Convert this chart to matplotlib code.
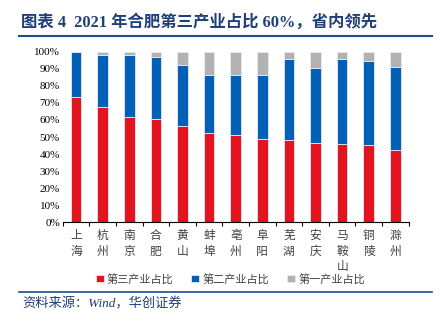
import numpy as np
import matplotlib.pyplot as plt
from matplotlib.ticker import PercentFormatter

cities = ["上海", "杭州", "南京", "合肥", "黄山", "蚌埠", "亳州",
          "阜阳", "芜湖", "安庆", "马鞍山", "铜陵", "滁州"]
tertiary = [73.3, 67.8, 61.9, 60.4, 56.6, 52.3, 51.3, 48.8, 48.4, 46.5, 46.1, 45.3, 42.6]
secondary = [26.4, 30.3, 36.2, 36.3, 35.4, 34.0, 35.0, 37.5, 47.3, 43.9, 49.6, 49.2, 48.6]
primary = [100 - a - b for a, b in zip(tertiary, secondary)]
series_names = ["第三产业占比", "第二产业占比", "第一产业占比"]

cjk = ["Liberation Serif", "Noto Sans CJK SC", "DejaVu Sans"]
plt.rcParams["font.family"] = cjk

fig = plt.figure(figsize=(4.43, 3.21), dpi=100)
ax = fig.add_axes([62.7 / 443, 1 - 222.3 / 321, 346 / 443, 170.6 / 321])

x = np.arange(len(cities))
w = 0.4
ec = "#e8e8f0"
ax.bar(x, tertiary, w, color="#E3141E", edgecolor=ec, linewidth=0.6, label=series_names[0])
ax.bar(x, secondary, w, bottom=tertiary, color="#0060B8", edgecolor=ec, linewidth=0.6,
       label=series_names[1])
ax.bar(x, primary, w, bottom=np.array(tertiary) + np.array(secondary), color="#B2B2B2",
       edgecolor=ec, linewidth=0.6, label=series_names[2])

ax.set_xlim(-0.5, len(cities) - 0.5)
ax.set_ylim(0, 100)
ax.set_yticks(np.arange(0, 101, 10))
ax.yaxis.set_major_formatter(PercentFormatter(decimals=0))
ax.tick_params(axis="y", length=0, labelsize=8, pad=2)
for s in ["left", "right", "top"]:
    ax.spines[s].set_visible(False)
ax.spines["bottom"].set_linewidth(0.8)

ax.set_xticks(np.arange(-0.5, len(cities), 1))
ax.set_xticklabels([])
ax.tick_params(axis="x", length=3, direction="out", width=0.8)
for i, c in enumerate(cities):
    ax.text(i, -4, "\n".join(c), ha="center", va="top", fontsize=8.5,
            color="#404040", linespacing=1.25, family=["Noto Sans CJK SC"])

leg = fig.legend(loc="center", bbox_to_anchor=(0.52, 1 - 279 / 321), ncol=3, frameon=False,
                 handlelength=0.7, handleheight=0.7, handletextpad=0.3,
                 columnspacing=1.6, prop={"family": ["Noto Sans CJK SC"], "size": 8})
for t in leg.get_texts():
    t.set_color("#404040")

fig.text(21 / 443, 1 - 22 / 321, "图表 4  2021 年合肥第三产业占比 60%，省内领先",
         fontsize=11.8, fontweight="bold", color="#1F3E7A", va="center", ha="left")
fig.add_artist(plt.Line2D([19 / 443, 432 / 443], [1 - 36 / 321] * 2, color="#1F4E8C", lw=1.5))
fig.add_artist(plt.Line2D([19 / 443, 432 / 443], [1 - 292 / 321] * 2, color="#1F4E8C", lw=1.2))
fig.text(22 / 443, 1 - 304 / 321, "资料来源：Wind，华创证券", fontsize=9.5, style="italic",
         color="#1F3E7A", va="center", ha="left")

fig.savefig("out.png", dpi=100)
